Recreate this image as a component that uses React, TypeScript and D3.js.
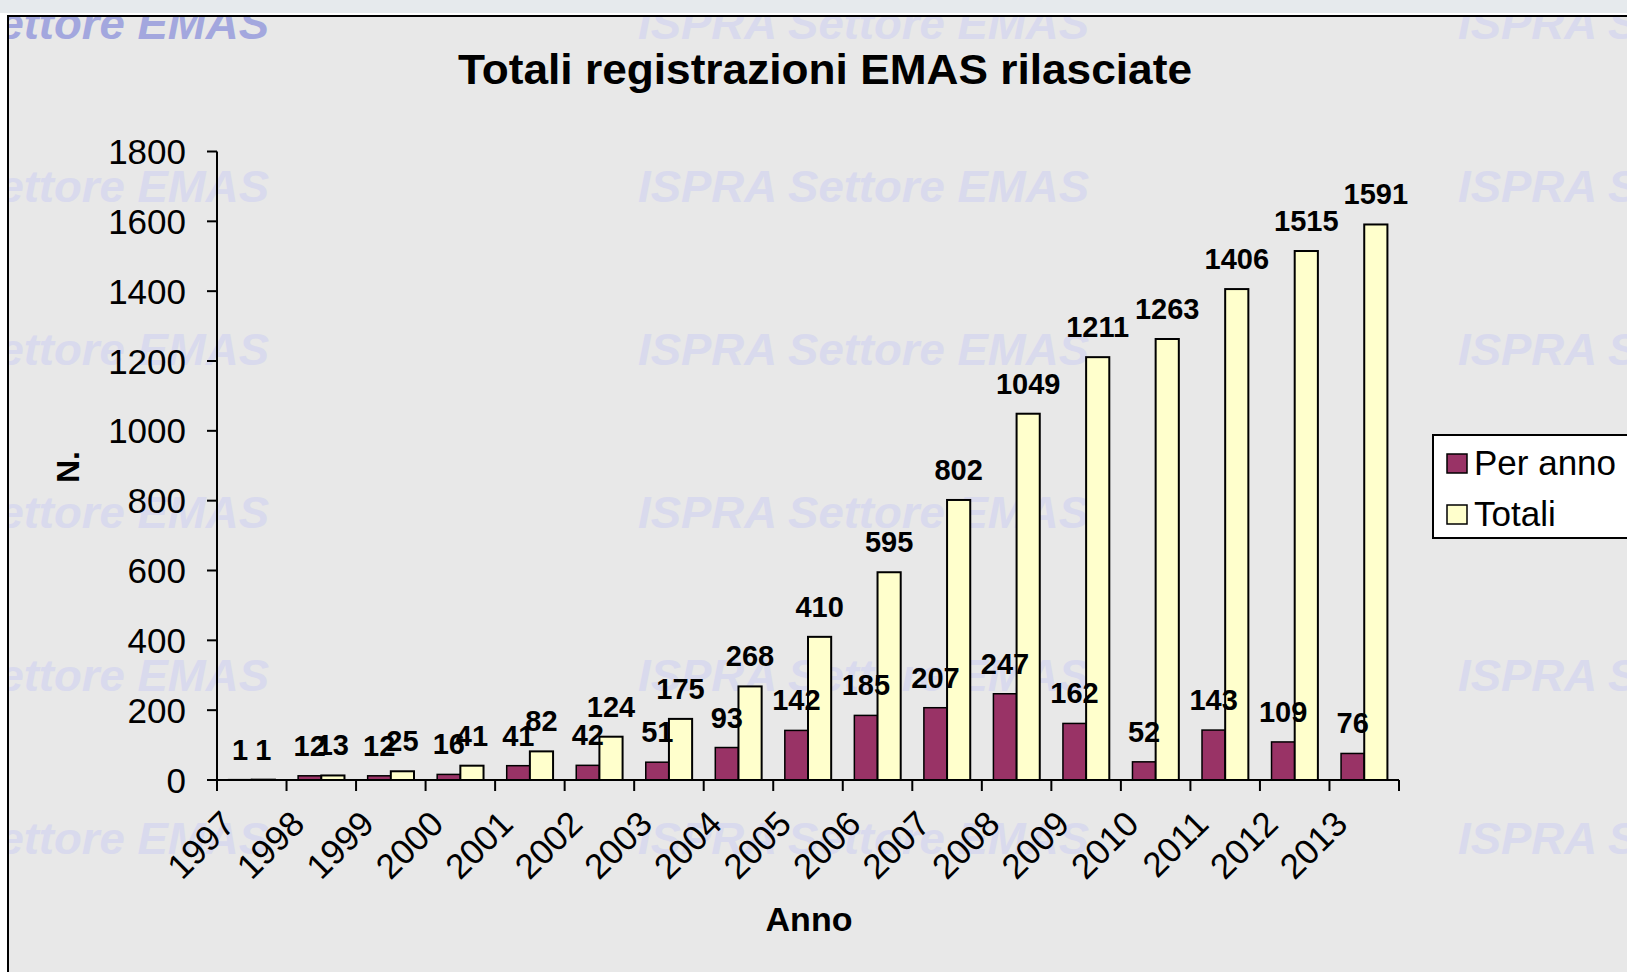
import React from "react";
import * as d3 from "d3";

const years = ["1997","1998","1999","2000","2001","2002","2003","2004","2005","2006","2007","2008","2009","2010","2011","2012","2013"];
const perAnno = [1,12,12,16,41,42,51,93,142,185,207,247,162,52,143,109,76];
const totali = [1,13,25,41,82,124,175,268,410,595,802,1049,1211,1263,1406,1515,1591];
const yTicks = [0,200,400,600,800,1000,1200,1400,1600,1800];
const seriesNames = ["Per anno","Totali"];
const seriesColors = ["#993366","#FFFFCC"];
const title = "Totali registrazioni EMAS rilasciate";
const xTitle = "Anno";
const yTitle = "N.";
const watermark = "ISPRA Settore EMAS";

const W = 1627, H = 972;
const FONT = "'Liberation Sans', Arial, sans-serif";

export default function App() {
  const x = d3.scaleBand<string>().domain(years).range([217, 1399]).paddingInner(0).paddingOuter(0);
  const y = d3.scaleLinear().domain([0, 1800]).range([780, 151.5]);
  const bw = x.bandwidth() / 3;
  const rows = [23, 186, 349, 512, 675, 838];
  const cols = [-182, 638, 1458];

  return (
    <div style={{ position: "fixed", left: 0, top: 0 }}>
      <svg width={W} height={H} style={{ display: "block" }}>
        <rect x={0} y={0} width={W} height={H} fill="#ffffff" />
        <rect x={0} y={0} width={W} height={13} fill="#e6eaed" />
        <rect x={8} y={16} width={W + 20} height={H} fill="#e8e8e8" stroke="#000" strokeWidth={2} />
        <clipPath id="frameClip">
          <rect x={9} y={17} width={W} height={H} />
        </clipPath>
        <g clipPath="url(#frameClip)" fontFamily={FONT} fontWeight="bold" fontStyle="italic" fontSize={45}>
          {rows.map((ry, i) =>
            cols.map((cx, j) => (
              <text key={i + "-" + j} x={cx} y={ry + 16} fill={i === 0 && j === 0 ? "#a3a7de" : "#d9daed"}
                textLength={451} lengthAdjust="spacingAndGlyphs">{watermark}</text>
            ))
          )}
        </g>

        <text x={825} y={84} textAnchor="middle" fontFamily={FONT} fontWeight="bold" fontSize={42}
          textLength={734} lengthAdjust="spacingAndGlyphs">{title}</text>

        {/* bars */}
        {years.map((yr, i) => {
          const x0 = x(yr)!;
          return (
            <g key={yr}>
              <rect x={x0 + bw / 2} y={y(perAnno[i])} width={bw} height={780 - y(perAnno[i])}
                fill={seriesColors[0]} stroke="#000" strokeWidth={1.5} />
              <rect x={x0 + bw / 2 + bw} y={y(totali[i])} width={bw} height={780 - y(totali[i])}
                fill={seriesColors[1]} stroke="#000" strokeWidth={2} />
            </g>
          );
        })}

        {/* data labels */}
        <g fontFamily={FONT} fontWeight="bold" fontSize={29} textAnchor="middle" fill="#000">
          {years.map((yr, i) => {
            const x0 = x(yr)!;
            return (
              <g key={yr}>
                <text x={x0 + bw} y={y(perAnno[i]) - 20}>{perAnno[i]}</text>
                <text x={x0 + 2 * bw} y={y(totali[i]) - 20}>{totali[i]}</text>
              </g>
            );
          })}
        </g>

        {/* y axis */}
        <line x1={217} x2={217} y1={y(1800)} y2={780} stroke="#000" strokeWidth={2} />
        {yTicks.map((t) => (
          <g key={t}>
            <line x1={207} x2={217} y1={y(t)} y2={y(t)} stroke="#000" strokeWidth={2} />
            <text x={186} y={y(t)} dy="0.36em" textAnchor="end" fontFamily={FONT} fontSize={35}>{t}</text>
          </g>
        ))}

        {/* x axis */}
        <line x1={217} x2={1399} y1={780} y2={780} stroke="#000" strokeWidth={2} />
        {[...years.map((yr) => x(yr)!), 1399].map((tx, i) => (
          <line key={i} x1={tx} x2={tx} y1={780} y2={791} stroke="#000" strokeWidth={2} />
        ))}
        {years.map((yr) => {
          const ax = x(yr)! + 20;
          const ay = 826;
          return (
            <text key={yr} x={ax} y={ay} textAnchor="end" fontFamily={FONT} fontSize={35}
              transform={`rotate(-45 ${ax} ${ay})`}>{yr}</text>
          );
        })}

        <text x={809} y={931} textAnchor="middle" fontFamily={FONT} fontWeight="bold" fontSize={34}>{xTitle}</text>
        <text x={0} y={0} textAnchor="middle" fontFamily={FONT} fontWeight="bold" fontSize={32}
          transform={`translate(79 467) rotate(-90)`}>{yTitle}</text>

        {/* legend */}
        <rect x={1433} y={435} width={260} height={103} fill="#ffffff" stroke="#000" strokeWidth={2} />
        {seriesNames.map((s, i) => (
          <g key={s}>
            <rect x={1447} y={454 + i * 51} width={20} height={19} fill={seriesColors[i]} stroke="#000" strokeWidth={1.5} />
            <text x={1474} y={475 + i * 51} fontFamily={FONT} fontSize={35}>{s}</text>
          </g>
        ))}
      </svg>
    </div>
  );
}
